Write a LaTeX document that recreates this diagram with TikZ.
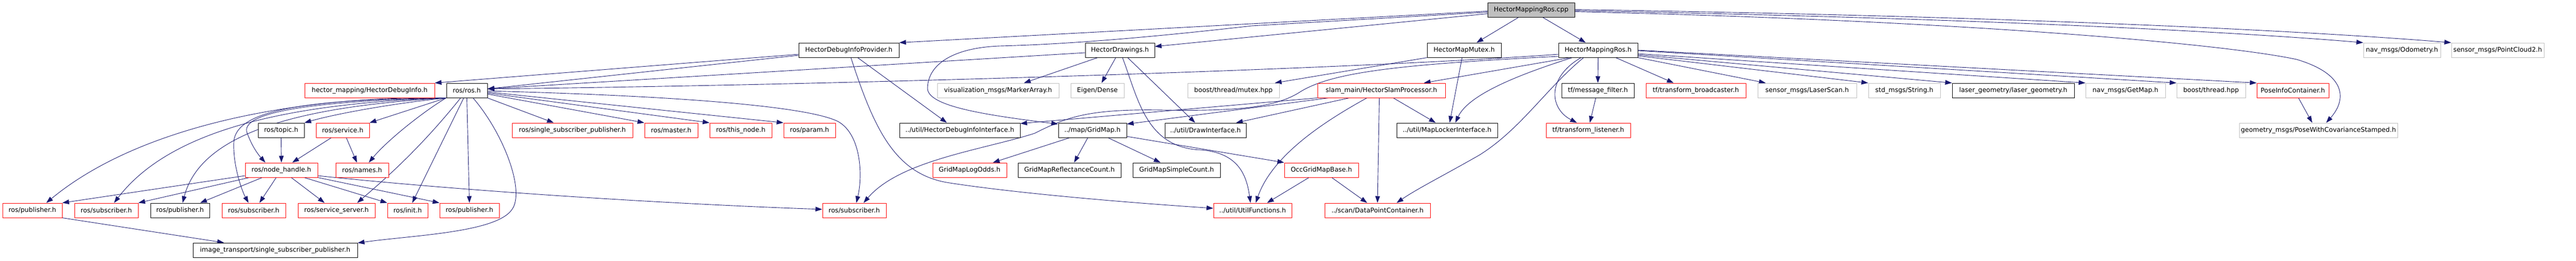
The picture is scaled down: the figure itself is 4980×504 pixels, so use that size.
\documentclass[tikz,border=0pt]{standalone}
\usepackage{fontspec}
\newfontfamily\djf{DejaVu Sans}
\usetikzlibrary{arrows.meta,backgrounds}
\definecolor{edgec}{HTML}{191970}
\definecolor{greyb}{HTML}{BFBFBF}
\definecolor{redb}{HTML}{FF0000}
\tikzset{
  box/.style={rectangle, minimum height=28pt, inner sep=0pt, fill=white, line width=1pt,
    font={\djf\fontsize{12.5}{15}\selectfont}},
  blk/.style={box, draw=black},
  rbox/.style={box, draw=redb},
  gbox/.style={box, draw=greyb},
  edge/.style={draw=edgec, line width=0.9pt, -{Triangle[length=13pt,width=9pt]}},
}
\begin{document}
\begin{tikzpicture}[x=1pt,y=-1pt]
\useasboundingbox (0,0) rectangle (4980,504);
% row 0
\node[blk, fill=greyb, minimum width=168pt] (cpp) at (2960,19.5) {HectorMappingRos.cpp};
% row 1
\node[blk, minimum width=194pt] (dip) at (1641,97) {HectorDebugInfoProvider.h};
\node[blk, minimum width=134pt] (hdraw) at (2165,97) {HectorDrawings.h};
\node[blk, minimum width=143pt] (mutex) at (2830.5,97) {HectorMapMutex.h};
\node[blk, minimum width=153pt] (hmr) at (3089.5,97) {HectorMappingRos.h};
\node[gbox, minimum width=149pt] (odom) at (4643.5,97) {nav\_msgs/Odometry.h};
\node[gbox, minimum width=179pt] (pc2) at (4828.5,97) {sensor\_msgs/PointCloud2.h};
% row 2
\node[rbox, minimum width=251pt] (hdi) at (714.5,175) {hector\_mapping/HectorDebugInfo.h};
\node[blk, minimum width=79pt] (ros) at (902.5,175) {ros/ros.h};
\node[gbox, minimum width=235pt] (marker) at (1929.5,175) {visualization\_msgs/MarkerArray.h};
\node[gbox, minimum width=103pt] (eigen) at (2121.5,175) {Eigen/Dense};
\node[gbox, minimum width=177pt] (bmutex) at (2384.5,175) {boost/thread/mutex.hpp};
\node[rbox, minimum width=247pt] (slam) at (2670.5,175) {slam\_main/HectorSlamProcessor.h};
\node[blk, minimum width=140pt] (msgf) at (3089,175) {tf/message\_filter.h};
\node[rbox, minimum width=193pt] (tfb) at (3278.5,175) {tf/transform\_broadcaster.h};
\node[gbox, minimum width=191pt] (laser) at (3493.5,175) {sensor\_msgs/LaserScan.h};
\node[gbox, minimum width=139pt] (str) at (3681.5,175) {std\_msgs/String.h};
\node[blk, minimum width=236pt] (lgeo) at (3892,175) {laser\_geometry/laser\_geometry.h};
\node[gbox, minimum width=154pt] (getmap) at (4109,175) {nav\_msgs/GetMap.h};
\node[gbox, minimum width=133pt] (bthread) at (4274.5,175) {boost/thread.hpp};
\node[rbox, minimum width=139pt] (pic) at (4432.5,175) {PoseInfoContainer.h};
% row 3
\node[blk, minimum width=89pt] (topic) at (543.5,252) {ros/topic.h};
\node[rbox, minimum width=103pt] (service) at (662.5,252) {ros/service.h};
\node[rbox, minimum width=233pt] (ssp) at (1106.5,252) {ros/single\_subscriber\_publisher.h};
\node[rbox, minimum width=103pt] (master) at (1297.5,252) {ros/master.h};
\node[rbox, minimum width=120pt] (thisnode) at (1432,252) {ros/this\_node.h};
\node[rbox, minimum width=100pt] (param) at (1565,252) {ros/param.h};
\node[blk, minimum width=233pt] (dii) at (1855.5,252) {../util/HectorDebugInfoInterface.h};
\node[blk, minimum width=132pt] (gridmap) at (2112,252) {../map/GridMap.h};
\node[blk, minimum width=157pt] (drawif) at (2330.5,252) {../util/DrawInterface.h};
\node[blk, minimum width=195pt] (mli) at (2797.5,252) {../util/MapLockerInterface.h};
\node[rbox, minimum width=163pt] (tfl) at (3070.5,252) {tf/transform\_listener.h};
\node[gbox, minimum width=306pt] (pwcs) at (4482,252) {geometry\_msgs/PoseWithCovarianceStamped.h};
% row 4
\node[rbox, minimum width=140pt] (nh) at (544,329) {ros/node\_handle.h};
\node[rbox, minimum width=102pt] (names) at (700,329) {ros/names.h};
\node[rbox, minimum width=143pt] (logodds) at (1874.5,329) {GridMapLogOdds.h};
\node[blk, minimum width=199pt] (refl) at (2067.5,329) {GridMapReflectanceCount.h};
\node[blk, minimum width=169pt] (simple) at (2274.5,329) {GridMapSimpleCount.h};
\node[rbox, minimum width=143pt] (occ) at (2554.5,329) {OccGridMapBase.h};
% row 5
\node[rbox, minimum width=115pt] (pubA) at (62.5,407) {ros/publisher.h};
\node[rbox, minimum width=123pt] (subA) at (205.5,407) {ros/subscriber.h};
\node[blk, minimum width=114pt] (pubB) at (348,407) {ros/publisher.h};
\node[rbox, minimum width=123pt] (subB) at (490.5,407) {ros/subscriber.h};
\node[rbox, minimum width=149pt] (ssrv) at (650.5,407) {ros/service\_server.h};
\node[rbox, minimum width=78pt] (init) at (788,407) {ros/init.h};
\node[rbox, minimum width=115pt] (pubC) at (907.5,407) {ros/publisher.h};
\node[rbox, minimum width=123pt] (subC) at (1651.5,407) {ros/subscriber.h};
\node[rbox, minimum width=151pt] (util) at (2421.5,407) {../util/UtilFunctions.h};
\node[rbox, minimum width=204pt] (dpc) at (2663,407) {../scan/DataPointContainer.h};
% row 6
\node[blk, minimum width=318pt] (itssp) at (532,484) {image\_transport/single\_subscriber\_publisher.h};

\begin{pgfonlayer}{background}
% from HectorMappingRos.cpp
\draw[edge] ([yshift=-2pt]cpp.west) -- (dip.north east);
\draw[edge] ([yshift=-7pt]cpp.west) -- ([yshift=7pt]hdraw.east);
\draw[edge] ([yshift=-4pt]cpp.west) -- (2420,50) .. controls (2200,75) and (2050,86) .. (1933,89)
  .. controls (1850,92) and (1795,120) .. (1793,170) .. controls (1792,205) and (1900,222) .. ([yshift=12pt]gridmap.west);
\draw[edge] ([xshift=-25pt]cpp.south) -- ([xshift=24pt]mutex.north);
\draw[edge] ([xshift=23pt]cpp.south) -- ([xshift=-24pt]hmr.north);
\draw[edge] ([yshift=-1pt]cpp.east) .. controls (3800,35) and (4300,60) .. (odom.north west);
\draw[edge] ([yshift=1pt]cpp.east) .. controls (3800,30) and (4400,55) .. (pc2.north west);
\draw[edge] ([yshift=-3pt]cpp.east) .. controls (3800,40) and (4300,85) .. (4440,115)
  .. controls (4540,145) and (4535,195) .. ([xshift=15pt]pwcs.north);
% from HectorMappingRos.h
\draw[edge] ([yshift=-8pt]hmr.west) .. controls (2600,135) and (1600,165) .. ([yshift=3pt]ros.east);
\draw[edge] ([yshift=-12pt]hmr.west) .. controls (2700,125) and (2570,140) .. (2510,180)
  .. controls (2460,210) and (2380,215) .. (2250,213) .. controls (2100,210) and (2060,228) .. (2000,258)
  .. controls (1900,290) and (1740,310) .. ([xshift=18pt]subC.north);
\draw[edge] ([xshift=-54pt]hmr.south) -- ([xshift=82pt]slam.north);
\draw[edge] ([xshift=-50pt]hmr.south) .. controls (2950,140) and (2840,180) .. ([xshift=16pt]mli.north);
\draw[edge] ([xshift=-28pt]hmr.south) .. controls (2990,170) and (2940,250) .. (2860,300)
  .. controls (2790,340) and (2740,365) .. ([xshift=37pt]dpc.north);
\draw[edge] ([xshift=-33pt]hmr.south) .. controls (2990,150) and (2995,210) .. ([xshift=-22pt]tfl.north);
\draw[edge] (hmr.south) -- (msgf.north);
\draw[edge] ([xshift=-4pt]msgf.south) -- ([xshift=3pt]tfl.north);
\draw[edge] ([xshift=34pt]hmr.south) -- ([xshift=-43pt]tfb.north);
\draw[edge] (hmr.south east) -- ([xshift=-80pt]laser.north);
\draw[edge] ([yshift=-11pt]hmr.east) -- (str.north west);
\draw[edge] ([yshift=-9pt]hmr.east) -- (lgeo.north west);
\draw[edge] ([yshift=-7pt]hmr.east) -- (getmap.north west);
\draw[edge] ([yshift=-1pt]hmr.east) -- (bthread.north west);
\draw[edge] (hmr.east) -- (pic.north west);
% HectorMapMutex.h
\draw[edge] (mutex.south west) -- ([xshift=80pt]bmutex.north);
\draw[edge] ([xshift=-4pt]mutex.south) -- ([xshift=5pt]mli.north);
% slam_main
\draw[edge] (slam.south west) -- ([yshift=13pt]dii.east);
\draw[edge] ([xshift=-102pt]slam.south) -- ([yshift=12pt]gridmap.east);
\draw[edge] ([xshift=-62pt]slam.south) -- ([xshift=-20pt]drawif.north east);
\draw[edge] ([xshift=-28pt]slam.south) .. controls (2560,235) and (2460,300) .. ([xshift=6pt]util.north);
\draw[edge] ([xshift=-4pt]slam.south) -- (dpc.north);
\draw[edge] ([xshift=23pt]slam.south) -- ([xshift=-22pt]mli.north);
% HectorDrawings.h
\draw[edge] ([yshift=-5pt]hdraw.west) -- ([yshift=3pt]ros.east);
\draw[edge] ([xshift=-43pt]hdraw.south) -- ([xshift=50pt]marker.north);
\draw[edge] ([xshift=-8pt]hdraw.south) -- ([xshift=8pt]eigen.north);
\draw[edge] ([xshift=5pt]hdraw.south) .. controls (2200,190) and (2215,285) .. (2320,290)
  .. controls (2395,295) and (2410,340) .. ([xshift=-4pt]util.north);
\draw[edge] ([xshift=15pt]hdraw.south) -- ([xshift=-20pt]drawif.north);
% HectorDebugInfoProvider.h
\draw[edge] ([yshift=-8pt]dip.west) -- (hdi.north east);
\draw[edge] ([yshift=-10pt]dip.west) -- ([yshift=3pt]ros.east);
\draw[edge] ([xshift=17pt]dip.south) -- ([xshift=-25pt]dii.north);
\draw[edge] ([xshift=4pt]dip.south) .. controls (1690,250) and (1730,335) .. (1830,353)
  .. controls (1950,372) and (2150,390) .. ([yshift=4pt]util.west);
% ros/ros.h
\draw[edge] (ros.south) -- (pubC.north);
\draw[edge] (ros.south east) -- ([xshift=-36pt]ssp.north);
\draw[edge] ([yshift=-7pt]ros.east) -- (master.north west);
\draw[edge] ([yshift=-5pt]ros.east) -- (thisnode.north west);
\draw[edge] ([yshift=-3pt]ros.east) -- (param.north west);
\draw[edge] ([yshift=-1pt]ros.east) .. controls (1300,185) and (1560,205) .. (1620,235)
  .. controls (1665,260) and (1668,340) .. ([xshift=4pt]subC.north);
\draw[edge] ([xshift=12pt]ros.south) .. controls (975,260) and (1015,370) .. (990,405)
  .. controls (960,450) and (800,455) .. ([yshift=14pt]itssp.east);
\draw[edge] ([xshift=-6pt]ros.south) -- ([xshift=9pt]init.north);
\draw[edge] ([xshift=-12pt]ros.south) .. controls (810,290) and (740,350) .. ([xshift=40pt]ssrv.north);
\draw[edge] (ros.south west) .. controls (820,215) and (750,270) .. ([xshift=13pt]names.north);
\draw[edge] (ros.south west) -- (service.north east);
\draw[edge] (ros.south west) .. controls (760,200) and (650,220) .. (topic.north east);
\draw[edge] (ros.south west) .. controls (620,195) and (460,215) .. (478,258)
  .. controls (488,285) and (500,300) .. ([xshift=-31pt]nh.north);
\draw[edge] (ros.south west) .. controls (580,192) and (455,215) .. (452,275)
  .. controls (450,320) and (468,370) .. ([xshift=-10pt]subB.north);
\draw[edge] (ros.south west) .. controls (600,185) and (280,235) .. ([xshift=27pt]pubA.north);
\draw[edge] (ros.south west) .. controls (560,200) and (330,250) .. ([xshift=15pt]subA.north);
\draw[edge] (ros.south west) .. controls (600,205) and (390,250) .. ([xshift=5pt]pubB.north);
% topic / service
\draw[edge] (topic.south) -- (nh.north);
\draw[edge] ([xshift=-22pt]service.south) -- ([xshift=21pt]nh.north);
\draw[edge] ([xshift=7pt]service.south) -- ([xshift=-10pt]names.north);
% node_handle
\draw[edge] ([yshift=-11pt]nh.west) -- (pubA.north east);
\draw[edge] ([xshift=-62pt]nh.south) -- (subA.north east);
\draw[edge] ([xshift=-37pt]nh.south) -- ([xshift=39pt]pubB.north);
\draw[edge] ([xshift=-10pt]nh.south) -- ([xshift=11pt]subB.north);
\draw[edge] ([xshift=19pt]nh.south) -- ([xshift=-23pt]ssrv.north);
\draw[edge] ([xshift=44pt]nh.south) -- (init.north west);
\draw[edge] (nh.south east) -- (pubC.north west);
\draw[edge] ([yshift=-11pt]nh.east) .. controls (900,370) and (1300,395) .. ([yshift=2pt]subC.west);
% publisher
\draw[edge] (pubA.south east) -- ([xshift=-99pt]itssp.north);
% GridMap
\draw[edge] ([xshift=-44pt]gridmap.south) -- ([xshift=45pt]logodds.north);
\draw[edge] ([xshift=-9pt]gridmap.south) -- ([xshift=9pt]refl.north);
\draw[edge] ([xshift=30pt]gridmap.south) -- ([xshift=-31pt]simple.north);
\draw[edge] ([yshift=-12pt]gridmap.east) -- (occ.north west);
% OccGridMapBase
\draw[edge] ([xshift=-24pt]occ.south) -- ([xshift=28pt]util.north);
\draw[edge] ([xshift=20pt]occ.south) -- ([xshift=-20pt]dpc.north);
% PoseInfoContainer
\draw[edge] ([xshift=11pt]pic.south) -- ([xshift=-12pt]pwcs.north);
\end{pgfonlayer}
\end{tikzpicture}
\end{document}
